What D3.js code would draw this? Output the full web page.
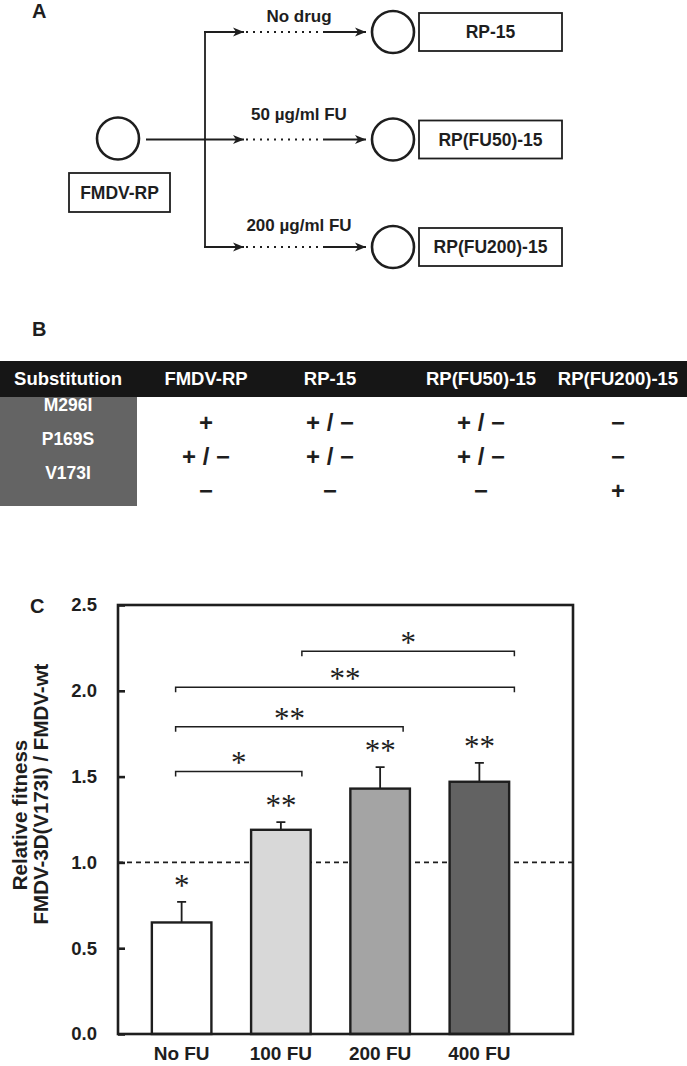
<!DOCTYPE html>
<html>
<head>
<meta charset="utf-8">
<title>FMDV-RP passages and fitness</title>
<script src="https://d3js.org/d3.v7.min.js"></script>
<style>
  body { margin: 0; background: #fff; }
  svg text { font-family: "Liberation Sans", Arial, sans-serif; font-weight: bold; fill: #1e1e1e; }
</style>
</head>
<body>
<script>
// ---- panel A: passage scheme
var parentVirus = "FMDV-RP";
var passages = ["No drug", "50 µg/ml FU", "200 µg/ml FU"];
var populations = ["RP-15", "RP(FU50)-15", "RP(FU200)-15"];

// ---- panel B: substitutions table
var columns = ["Substitution", "FMDV-RP", "RP-15", "RP(FU50)-15", "RP(FU200)-15"];
var substitutions = ["M296I", "P169S", "V173I"];
var presence = [
  ["+", "+ / −", "+ / −", "−"],
  ["+ / −", "+ / −", "+ / −", "−"],
  ["−", "−", "−", "+"]
];

// ---- panel C: relative fitness
var groups = ["No FU", "100 FU", "200 FU", "400 FU"];
var fitness = [0.65, 1.19, 1.43, 1.47];
var fitnessSd = [0.12, 0.045, 0.125, 0.11];
var barStars = ["*", "**", "**", "**"];
var compFrom = [0, 0, 0, 1];
var compTo = [1, 2, 3, 3];
var compLevel = [1.53, 1.79, 2.02, 2.23];
var compStars = ["*", "**", "**", "*"];
var yTicks = [0, 0.5, 1.0, 1.5, 2.0, 2.5];

var width = 687, height = 1066;

var svg = d3.select('body').append('svg')
  .attr('width', width)
  .attr('height', height);

// arrow marker
svg.append('defs').append('marker')
  .attr('id', 'arrow')
  .attr('viewBox', '0 -5 12 10')
  .attr('refX', 11)
  .attr('refY', 0)
  .attr('markerUnits', 'userSpaceOnUse')
  .attr('markerWidth', 12)
  .attr('markerHeight', 10)
  .attr('orient', 'auto')
  .append('path')
  .attr('d', 'M0,-4.5L11,0L0,4.5L3,0Z')
  .attr('fill', '#1e1e1e');

function panelLabel(t, x, y) {
  svg.append('text').attr('x', x).attr('y', y).style('font-size', '20px').text(t);
}

// ================= A =================
panelLabel('A', 32, 18);

var a = svg.append('g');
var rowY = d3.scalePoint().domain(passages).range([32, 247]);
var labelLift = [16, 26, 22];
var midY = rowY(passages[1]);

a.append('circle').attr('cx', 118).attr('cy', midY - 1).attr('r', 21)
  .attr('fill', 'none').attr('stroke', '#1e1e1e').attr('stroke-width', 2.6);
a.append('rect').attr('x', 69).attr('y', 173).attr('width', 101).attr('height', 39)
  .attr('fill', 'none').attr('stroke', '#1e1e1e').attr('stroke-width', 1.8);
a.append('text').attr('x', 119.5).attr('y', 199).attr('text-anchor', 'middle')
  .style('font-size', '17.5px').text(parentVirus);

a.append('line').attr('x1', 146).attr('x2', 205).attr('y1', midY).attr('y2', midY)
  .attr('stroke', '#1e1e1e').attr('stroke-width', 1.8);
a.append('line').attr('x1', 205).attr('x2', 205)
  .attr('y1', rowY(passages[0])).attr('y2', rowY(passages[2]))
  .attr('stroke', '#1e1e1e').attr('stroke-width', 1.8);

passages.forEach(function(p, i) {
  var y = rowY(p);
  a.append('line').attr('x1', 204).attr('x2', 244).attr('y1', y).attr('y2', y)
    .attr('stroke', '#1e1e1e').attr('stroke-width', 1.8).attr('marker-end', 'url(#arrow)');
  a.append('line').attr('x1', 246).attr('x2', 322).attr('y1', y).attr('y2', y)
    .attr('stroke', '#1e1e1e').attr('stroke-width', 1.8).attr('stroke-dasharray', '2,5');
  a.append('line').attr('x1', 323).attr('x2', 366).attr('y1', y).attr('y2', y)
    .attr('stroke', '#1e1e1e').attr('stroke-width', 1.8).attr('marker-end', 'url(#arrow)');
  a.append('text').attr('x', 299).attr('y', y - labelLift[i] + 6).attr('text-anchor', 'middle')
    .style('font-size', '17px').text(p);
  a.append('circle').attr('cx', 393).attr('cy', y).attr('r', 21)
    .attr('fill', 'none').attr('stroke', '#1e1e1e').attr('stroke-width', 2.6);
  a.append('rect').attr('x', 419).attr('y', y - 19).attr('width', 143).attr('height', 38)
    .attr('fill', 'none').attr('stroke', '#1e1e1e').attr('stroke-width', 1.8);
  a.append('text').attr('x', 490.5).attr('y', y + 6).attr('text-anchor', 'middle')
    .style('font-size', '17.5px').text(populations[i]);
});

// ================= B =================
panelLabel('B', 32, 336);

var b = svg.append('g');
var colX = [68, 206, 330, 481, 618];
var subY = d3.scalePoint().domain(substitutions).range([405, 473]);

b.append('rect').attr('x', 0).attr('y', 361).attr('width', width).attr('height', 36)
  .attr('fill', '#161616');
b.append('rect').attr('x', 0).attr('y', 397).attr('width', 137).attr('height', 109)
  .attr('fill', '#646464');

b.selectAll('.head').data(columns).enter().append('text')
  .attr('class', 'head')
  .attr('x', function(d, i) { return colX[i]; })
  .attr('y', 385)
  .attr('text-anchor', 'middle')
  .style('font-size', '18.5px')
  .style('fill', '#fff')
  .text(function(d) { return d; });

b.selectAll('.sub').data(substitutions).enter().append('text')
  .attr('class', 'sub')
  .attr('x', colX[0])
  .attr('y', function(d) { return subY(d) + 6; })
  .attr('text-anchor', 'middle')
  .style('font-size', '17.5px')
  .style('fill', '#fff')
  .text(function(d) { return d; });

presence.forEach(function(row, r) {
  row.forEach(function(v, c) {
    b.append('text')
      .attr('x', colX[c + 1])
      .attr('y', subY(substitutions[r]) + 18 + 8)
      .attr('text-anchor', 'middle')
      .style('font-size', '24px')
      .text(v);
  });
});

// ================= C =================
panelLabel('C', 30, 613);

var plotL = 118, plotR = 573, plotT = 605, plotB = 1034;
var c = svg.append('g');

var y = d3.scaleLinear().domain([0, 2.5]).range([plotB, plotT]);
var x = d3.scaleBand().domain(groups).range([132, 529]).paddingInner(0.4).paddingOuter(0.2);
var fill = d3.scaleOrdinal().domain(groups).range(['#ffffff', '#d8d8d8', '#a4a4a4', '#626262']);
var endOffset = [-6, 21, 23, 35];

// reference line at 1.0
c.append('line')
  .attr('x1', plotL).attr('x2', plotR)
  .attr('y1', y(1)).attr('y2', y(1))
  .attr('stroke', '#1e1e1e').attr('stroke-width', 1.6).attr('stroke-dasharray', '5,4');

// error bars (up only)
c.selectAll('.err').data(groups).enter().append('path')
  .attr('class', 'err')
  .attr('d', function(d, i) {
    var cx = x(d) + x.bandwidth() / 2;
    var top = y(fitness[i] + fitnessSd[i]);
    return 'M' + cx + ',' + y(fitness[i]) + 'V' + top + 'M' + (cx - 4.5) + ',' + top + 'H' + (cx + 4.5);
  })
  .attr('fill', 'none').attr('stroke', '#1e1e1e').attr('stroke-width', 1.8);

c.selectAll('.bar').data(groups).enter().append('rect')
  .attr('class', 'bar')
  .attr('x', function(d) { return x(d); })
  .attr('width', x.bandwidth())
  .attr('y', function(d, i) { return y(fitness[i]); })
  .attr('height', function(d, i) { return y(0) - y(fitness[i]); })
  .attr('fill', function(d) { return fill(d); })
  .attr('stroke', '#1e1e1e').attr('stroke-width', 2.4);

// significance over bars
c.selectAll('.bstar').data(groups).enter().append('text')
  .attr('class', 'bstar')
  .attr('x', function(d) { return x(d) + x.bandwidth() / 2; })
  .attr('y', function(d, i) { return y(fitness[i] + fitnessSd[i]) - 20 + 14; })
  .attr('text-anchor', 'middle')
  .style('font-family', '"Liberation Serif", "Times New Roman", serif')
  .style('font-weight', 'normal')
  .style('font-size', '31px')
  .text(function(d, i) { return barStars[i]; });

// comparison brackets
compLevel.forEach(function(lv, k) {
  var x1 = x(groups[compFrom[k]]) + x.bandwidth() / 2 + endOffset[compFrom[k]];
  var x2 = x(groups[compTo[k]]) + x.bandwidth() / 2 + endOffset[compTo[k]];
  var yy = y(lv);
  c.append('path')
    .attr('d', 'M' + x1 + ',' + (yy + 5) + 'V' + yy + 'H' + x2 + 'V' + (yy + 5))
    .attr('fill', 'none').attr('stroke', '#1e1e1e').attr('stroke-width', 1.5);
  c.append('text')
    .attr('x', (x1 + x2) / 2)
    .attr('y', yy - 12 + 14)
    .attr('text-anchor', 'middle')
    .style('font-family', '"Liberation Serif", "Times New Roman", serif')
    .style('font-weight', 'normal')
    .style('font-size', '31px')
    .text(compStars[k]);
});

// frame
c.append('rect')
  .attr('x', plotL).attr('y', plotT)
  .attr('width', plotR - plotL).attr('height', plotB - plotT)
  .attr('fill', 'none').attr('stroke', '#1e1e1e').attr('stroke-width', 2.6);

// axes
var yAxis = c.append('g')
  .attr('transform', 'translate(' + plotL + ',0)')
  .call(d3.axisLeft(y).tickValues(yTicks).tickFormat(d3.format('.1f'))
    .tickSizeInner(-7).tickSizeOuter(0).tickPadding(21));
yAxis.select('.domain').remove();
yAxis.selectAll('line').attr('stroke', '#1e1e1e').attr('stroke-width', 2.6);
yAxis.selectAll('text').style('font-size', '18.5px').attr('font-family', null);

var xAxis = c.append('g')
  .attr('transform', 'translate(0,' + plotB + ')')
  .call(d3.axisBottom(x).tickSize(0).tickPadding(13));
xAxis.select('.domain').remove();
xAxis.selectAll('text').style('font-size', '19px').attr('font-family', null);

// y title
c.append('text')
  .attr('transform', 'translate(27,815) rotate(-90)')
  .attr('text-anchor', 'middle')
  .style('font-size', '20.5px')
  .text('Relative fitness');
c.append('text')
  .attr('transform', 'translate(48,794) rotate(-90)')
  .attr('text-anchor', 'middle')
  .style('font-size', '20.5px')
  .text('FMDV-3D(V173I) / FMDV-wt');
</script>
</body>
</html>
